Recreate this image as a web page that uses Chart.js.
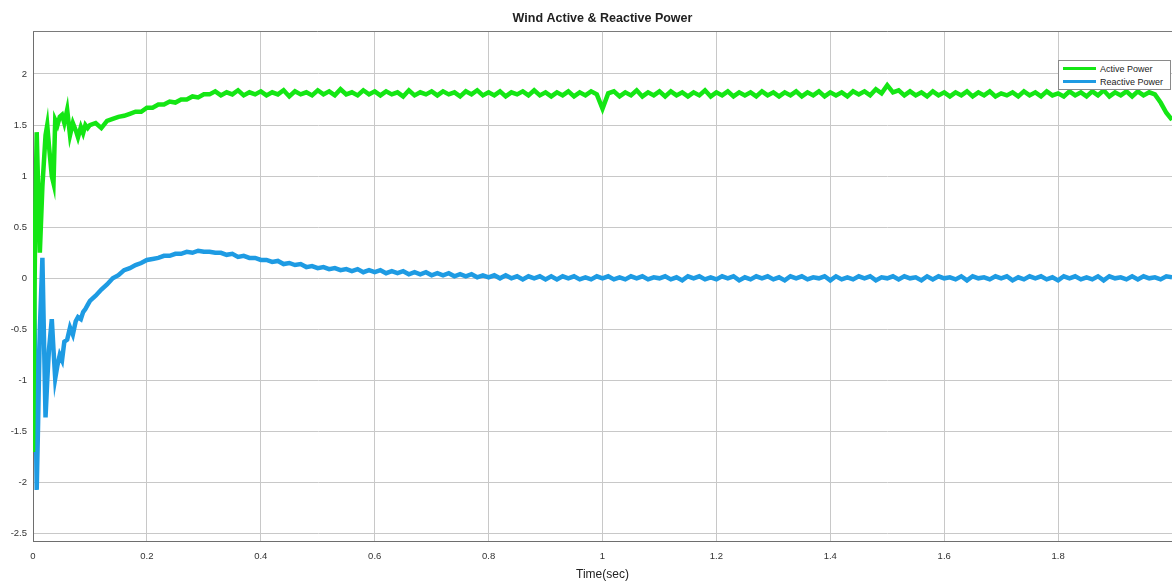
<!DOCTYPE html>
<html>
<head>
<meta charset="utf-8">
<title>Wind Active & Reactive Power</title>
<script src="https://cdn.jsdelivr.net/npm/chart.js@4.4.1/dist/chart.umd.min.js"></script>
<style>
    body { margin: 0; background: #fff; }
    #wrap { position: relative; width: 1172px; height: 582px; }
    #legend {
        position: absolute; left: 1058px; top: 60px; width: 111px;
        border: 1px solid #8a8a8a; background: #fff;
        font: 9px "Liberation Sans", Arial, sans-serif; color: #222;
        padding: 1px 0;
    }
    #legend .row { display: flex; align-items: center; height: 13px; }
    #legend .swatch { width: 33px; height: 3px; margin: 0 4px 0 4px; }
</style>
</head>
<body>
<div id="wrap">
    <canvas id="powerChart"></canvas>
    <div id="legend"></div>
</div>
<script>
// time axis (s) - dense at start-up, then 10 ms samples
const timeSec = [
    0, 0.004, 0.0065, 0.009, 0.012, 0.0165, 0.022, 0.025, 0.028, 0.033,
    0.036, 0.039, 0.043, 0.047, 0.051, 0.055, 0.06, 0.065, 0.07, 0.075,
    0.079, 0.084, 0.088, 0.092, 0.096, 0.1,
    0.11, 0.12, 0.13, 0.14, 0.15, 0.16, 0.17, 0.18, 0.19, 0.20,
    0.21, 0.22, 0.23, 0.24, 0.25, 0.26, 0.27, 0.28, 0.29, 0.30,
    0.31, 0.32, 0.33, 0.34, 0.35, 0.36, 0.37, 0.38, 0.39, 0.40,
    0.41, 0.42, 0.43, 0.44, 0.45, 0.46, 0.47, 0.48, 0.49, 0.50,
    0.51, 0.52, 0.53, 0.54, 0.55, 0.56, 0.57, 0.58, 0.59, 0.60,
    0.61, 0.62, 0.63, 0.64, 0.65, 0.66, 0.67, 0.68, 0.69, 0.70,
    0.71, 0.72, 0.73, 0.74, 0.75, 0.76, 0.77, 0.78, 0.79, 0.80,
    0.81, 0.82, 0.83, 0.84, 0.85, 0.86, 0.87, 0.88, 0.89, 0.90,
    0.91, 0.92, 0.93, 0.94, 0.95, 0.96, 0.97, 0.98, 0.99, 1.00,
    1.01, 1.02, 1.03, 1.04, 1.05, 1.06, 1.07, 1.08, 1.09, 1.10,
    1.11, 1.12, 1.13, 1.14, 1.15, 1.16, 1.17, 1.18, 1.19, 1.20,
    1.21, 1.22, 1.23, 1.24, 1.25, 1.26, 1.27, 1.28, 1.29, 1.30,
    1.31, 1.32, 1.33, 1.34, 1.35, 1.36, 1.37, 1.38, 1.39, 1.40,
    1.41, 1.42, 1.43, 1.44, 1.45, 1.46, 1.47, 1.48, 1.49, 1.50,
    1.51, 1.52, 1.53, 1.54, 1.55, 1.56, 1.57, 1.58, 1.59, 1.60,
    1.61, 1.62, 1.63, 1.64, 1.65, 1.66, 1.67, 1.68, 1.69, 1.70,
    1.71, 1.72, 1.73, 1.74, 1.75, 1.76, 1.77, 1.78, 1.79, 1.80,
    1.81, 1.82, 1.83, 1.84, 1.85, 1.86, 1.87, 1.88, 1.89, 1.90,
    1.91, 1.92, 1.93, 1.94, 1.95, 1.96, 1.97, 1.98, 1.99, 2.00
];

const activePower = [
    -1.7, 0.6, 1.43, 0.9, 0.25, 0.9, 1.4, 1.5, 1.3, 1.0,
    0.93, 1.55, 1.5, 1.58, 1.6, 1.52, 1.65, 1.4, 1.52, 1.45,
    1.38, 1.48, 1.42, 1.5, 1.47, 1.5,
    1.52, 1.47, 1.54, 1.56, 1.58, 1.59, 1.61, 1.63, 1.63, 1.67,
    1.67, 1.70, 1.70, 1.73, 1.72, 1.75, 1.75, 1.78, 1.77, 1.80,
    1.80, 1.83, 1.79, 1.82, 1.80, 1.84, 1.79, 1.82, 1.80, 1.83,
    1.79, 1.82, 1.80, 1.84, 1.78, 1.83, 1.80, 1.82, 1.79, 1.84,
    1.80, 1.83, 1.79, 1.85, 1.80, 1.82, 1.79, 1.84, 1.80, 1.83,
    1.79, 1.83, 1.80, 1.82, 1.78, 1.84, 1.79, 1.82, 1.80, 1.83,
    1.79, 1.83, 1.80, 1.82, 1.78, 1.83, 1.80, 1.84, 1.79, 1.82,
    1.79, 1.83, 1.78, 1.82, 1.80, 1.83, 1.79, 1.84, 1.79, 1.82,
    1.78, 1.82, 1.79, 1.83, 1.78, 1.82, 1.79, 1.83, 1.80, 1.66,
    1.81, 1.83, 1.78, 1.82, 1.79, 1.84, 1.78, 1.82, 1.79, 1.83,
    1.78, 1.83, 1.79, 1.82, 1.78, 1.82, 1.79, 1.84, 1.78, 1.82,
    1.79, 1.83, 1.78, 1.82, 1.79, 1.82, 1.78, 1.83, 1.79, 1.82,
    1.78, 1.82, 1.79, 1.83, 1.78, 1.82, 1.79, 1.83, 1.78, 1.82,
    1.79, 1.82, 1.78, 1.83, 1.80, 1.83, 1.79, 1.85, 1.81, 1.89,
    1.82, 1.84, 1.79, 1.83, 1.79, 1.82, 1.78, 1.83, 1.79, 1.82,
    1.78, 1.82, 1.79, 1.83, 1.78, 1.82, 1.79, 1.83, 1.78, 1.81,
    1.79, 1.82, 1.78, 1.83, 1.79, 1.82, 1.78, 1.83, 1.79, 1.81,
    1.78, 1.83, 1.79, 1.82, 1.78, 1.83, 1.79, 1.84, 1.78, 1.82,
    1.79, 1.83, 1.78, 1.83, 1.79, 1.82, 1.80, 1.72, 1.62, 1.55
];

const reactivePower = [
    0.53, -0.9, -2.07, -1.4, -0.5, 0.2, -1.36, -1.0, -0.7, -0.4,
    -0.7, -0.98, -0.85, -0.75, -0.8, -0.62, -0.6, -0.48, -0.55, -0.42,
    -0.38, -0.4, -0.33, -0.3, -0.26, -0.22,
    -0.17, -0.11, -0.06, 0.00, 0.03, 0.08, 0.10, 0.13, 0.15, 0.18,
    0.19, 0.20, 0.22, 0.22, 0.24, 0.24, 0.26, 0.25, 0.27, 0.26,
    0.26, 0.25, 0.25, 0.23, 0.24, 0.21, 0.22, 0.20, 0.20, 0.18,
    0.18, 0.16, 0.17, 0.14, 0.15, 0.13, 0.14, 0.11, 0.12, 0.10,
    0.11, 0.09, 0.10, 0.08, 0.09, 0.07, 0.09, 0.06, 0.08, 0.06,
    0.08, 0.05, 0.07, 0.05, 0.07, 0.04, 0.06, 0.04, 0.06, 0.03,
    0.05, 0.03, 0.05, 0.02, 0.04, 0.02, 0.04, 0.01, 0.03, 0.01,
    0.03, 0.00, 0.03, 0.00, 0.02, -0.01, 0.02, 0.00, 0.02, -0.01,
    0.02, -0.01, 0.02, 0.00, 0.02, -0.01, 0.01, -0.01, 0.02, 0.00,
    0.02, -0.01, 0.01, -0.01, 0.02, 0.00, 0.02, -0.01, 0.01, 0.00,
    0.02, -0.01, 0.01, -0.02, 0.02, 0.00, 0.02, -0.01, 0.01, -0.01,
    0.02, 0.00, 0.02, -0.02, 0.01, -0.01, 0.02, 0.00, 0.02, -0.01,
    0.01, -0.02, 0.02, 0.00, 0.02, -0.01, 0.01, 0.00, 0.02, -0.02,
    0.02, -0.01, 0.01, -0.01, 0.02, 0.00, 0.02, -0.02, 0.01, 0.00,
    0.02, -0.01, 0.02, 0.00, 0.01, -0.02, 0.02, -0.01, 0.02, 0.00,
    0.01, -0.01, 0.02, -0.02, 0.02, 0.00, 0.01, -0.01, 0.02, 0.00,
    0.02, -0.02, 0.01, -0.01, 0.02, 0.00, 0.02, -0.01, 0.01, -0.02,
    0.02, 0.00, 0.02, -0.01, 0.01, -0.01, 0.02, -0.02, 0.02, 0.00,
    0.01, -0.01, 0.02, -0.01, 0.02, 0.00, 0.01, -0.01, 0.02, 0.01
];

const seriesNames = ['Active Power', 'Reactive Power'];
const seriesColors = ['#14e614', '#1e9be3'];

function toPoints(values) {
    return timeSec.map((t, i) => ({ x: t, y: values[i] }));
}

function fmtTick(v) {
    return String(Math.round(v * 100) / 100);
}

// top border of the axes box (MATLAB style)
const boxBorder = {
    id: 'boxBorder',
    afterDraw(chart) {
        const { ctx, chartArea } = chart;
        ctx.save();
        ctx.strokeStyle = '#7a7a7a';
        ctx.lineWidth = 1;
        ctx.beginPath();
        ctx.moveTo(chartArea.left, chartArea.top + 0.5);
        ctx.lineTo(chartArea.right, chartArea.top + 0.5);
        ctx.stroke();
        ctx.restore();
    }
};

const ctx = document.getElementById('powerChart').getContext('2d');

const chart = new Chart(ctx, {
    type: 'line',
    data: {
        datasets: [
            {
                label: seriesNames[0],
                data: toPoints(activePower),
                borderColor: seriesColors[0],
                backgroundColor: seriesColors[0],
                borderWidth: 4.5,
                pointRadius: 0,
                tension: 0
            },
            {
                label: seriesNames[1],
                data: toPoints(reactivePower),
                borderColor: seriesColors[1],
                backgroundColor: seriesColors[1],
                borderWidth: 4.5,
                pointRadius: 0,
                tension: 0
            }
        ]
    },
    options: {
        responsive: true,
        maintainAspectRatio: false,
        animation: false,
        layout: { padding: 0 },
        plugins: {
            legend: { display: false },
            tooltip: { enabled: false },
            title: {
                display: true,
                text: 'Wind Active & Reactive Power',
                fullSize: false,
                color: '#222',
                font: { family: '"Liberation Sans", Arial, sans-serif', size: 12.5, weight: 'bold' },
                padding: { top: 11, bottom: 5 }
            }
        },
        scales: {
            x: {
                type: 'linear',
                min: 0,
                max: 2,
                ticks: {
                    stepSize: 0.2,
                    includeBounds: false,
                    padding: 0,
                    maxRotation: 0,
                    color: '#333',
                    font: { family: '"Liberation Sans", Arial, sans-serif', size: 9.5, lineHeight: 3.2 },
                    callback: v => (v >= 1.99 ? '' : fmtTick(v))
                },
                grid: { color: '#c8c8c8', drawTicks: false },
                border: { color: '#6e6e6e' },
                title: {
                    display: true,
                    text: 'Time(sec)',
                    color: '#222',
                    font: { family: '"Liberation Sans", Arial, sans-serif', size: 12 },
                    padding: { top: 0, bottom: 0 }
                },
                afterFit(scale) { scale.height = 41; }
            },
            y: {
                type: 'linear',
                min: -2.57,
                max: 2.42,
                ticks: {
                    stepSize: 0.5,
                    includeBounds: false,
                    padding: 6,
                    color: '#333',
                    font: { family: '"Liberation Sans", Arial, sans-serif', size: 9.5 },
                    callback: v => fmtTick(v)
                },
                grid: { color: '#c8c8c8', drawTicks: false },
                border: { color: '#6e6e6e' },
                afterFit(scale) { scale.width = 33; }
            }
        }
    },
    plugins: [boxBorder]
});

// legend box in the upper right corner, built from the datasets
const legendEl = document.getElementById('legend');
chart.data.datasets.forEach(ds => {
    const row = document.createElement('div');
    row.className = 'row';
    const sw = document.createElement('span');
    sw.className = 'swatch';
    sw.style.background = ds.borderColor;
    const txt = document.createElement('span');
    txt.textContent = ds.label;
    row.appendChild(sw);
    row.appendChild(txt);
    legendEl.appendChild(row);
});
</script>
</body>
</html>
